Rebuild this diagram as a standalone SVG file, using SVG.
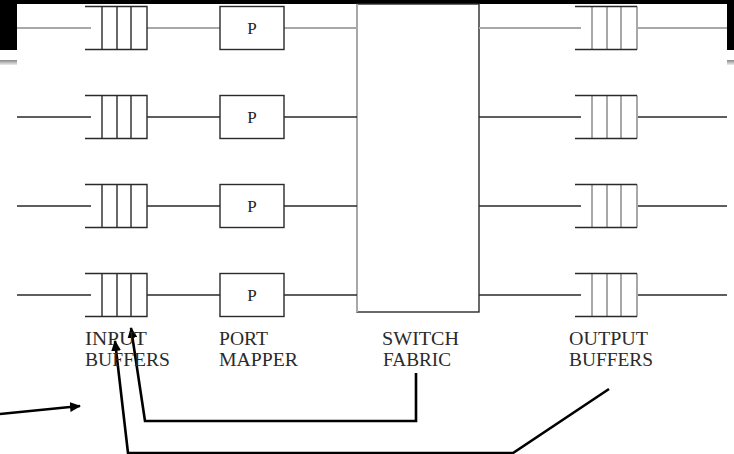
<svg xmlns="http://www.w3.org/2000/svg" width="734" height="454" viewBox="0 0 734 454">
<defs>
<style>
.d{stroke:#2a2a2a;stroke-width:1.4;fill:none}
.g{stroke:#a8a8a8;stroke-width:2;fill:none}
.a{stroke:#000;stroke-width:2.6;fill:none}
.t{font-family:"Liberation Serif","Times New Roman",serif;font-size:18.5px;fill:#2a2a2a}
.p{font-family:"Liberation Serif","Times New Roman",serif;font-size:17px;fill:#222;text-anchor:middle}
</style>
<linearGradient id="gr" x1="0" y1="0" x2="0" y2="1">
<stop offset="0" stop-color="#888"/><stop offset="1" stop-color="#eee"/>
</linearGradient>
<marker id="ah" markerWidth="12" markerHeight="10" refX="10" refY="5" orient="auto" markerUnits="userSpaceOnUse">
<path d="M0,0 L11,5 L0,10 Z" fill="#000"/>
</marker>
<g id="ibuf">
<path class="d" d="M-6,-21.5 H56 V21.5 H-6 M11,-21.5 V21.5 M26,-21.5 V21.5 M40,-21.5 V21.5"/>
</g>
<g id="obuf">
<path class="g" d="M17,-21.5 V21.5 M32,-21.5 V21.5 M46,-21.5 V21.5 M62,-21.5 V21.5"/>
<path class="d" d="M0,-21.5 H62 M0,21.5 H62"/>
</g>
</defs>
<rect width="734" height="454" fill="#fff"/>
<g id="template">
<rect x="0" y="0" width="734" height="4" fill="#000"/>
<rect x="0" y="0" width="17" height="50" fill="#000"/>
<rect x="727" y="0" width="7" height="50" fill="#000"/>
<rect x="0" y="60" width="17" height="5" fill="url(#gr)"/>
<rect x="727" y="60" width="7" height="5" fill="url(#gr)"/>
</g>
<g id="fabric">
<rect x="357" y="4" width="122" height="308" fill="#fff" stroke="#2a2a2a" stroke-width="1.4"/>
<line class="g" x1="357" y1="4" x2="357" y2="312"/>
</g>
<g id="connectors">
<path class="g" d="M17,28 H91 M147,28 H220 M284,28 H357 M479,28 H581 M638,28 H727"/>
<path class="d" d="M17,117 H91 M147,117 H220 M284,117 H357 M479,117 H581 M638,117 H727"/>
<path class="d" d="M17,206 H91 M147,206 H220 M284,206 H357 M479,206 H581 M638,206 H727"/>
<path class="d" d="M17,295 H91 M147,295 H220 M284,295 H357 M479,295 H581 M638,295 H727"/>
<path class="a" d="M0,414 L80,406" marker-end="url(#ah)"/>
<path class="a" d="M416,373 V421 H145 L131,328" marker-end="url(#ah)"/>
<path class="a" d="M609,389 L513,453 H128 L115,341" marker-end="url(#ah)"/>
</g>
<g id="in1"><use href="#ibuf" x="91" y="28"/></g>
<g id="in2"><use href="#ibuf" x="91" y="117"/></g>
<g id="in3"><use href="#ibuf" x="91" y="206"/></g>
<g id="in4"><use href="#ibuf" x="91" y="295"/></g>
<g id="p1"><rect class="d" x="220" y="6.5" width="64" height="43" fill="#fff"/><text class="p" x="252" y="34">P</text></g>
<g id="p2"><rect class="d" x="220" y="95.5" width="64" height="43" fill="#fff"/><text class="p" x="252" y="123">P</text></g>
<g id="p3"><rect class="d" x="220" y="184.5" width="64" height="43" fill="#fff"/><text class="p" x="252" y="212">P</text></g>
<g id="p4"><rect class="d" x="220" y="273.5" width="64" height="43" fill="#fff"/><text class="p" x="252" y="301">P</text></g>
<g id="out1"><use href="#obuf" x="575" y="28"/></g>
<g id="out2"><use href="#obuf" x="575" y="117"/></g>
<g id="out3"><use href="#obuf" x="575" y="206"/></g>
<g id="out4"><use href="#obuf" x="575" y="295"/></g>
<g id="labels">
<text class="t" x="85" y="345" textLength="62" lengthAdjust="spacingAndGlyphs">INPUT</text>
<text class="t" x="85" y="366" textLength="85" lengthAdjust="spacingAndGlyphs">BUFFERS</text>
<text class="t" x="219" y="345" textLength="49" lengthAdjust="spacingAndGlyphs">PORT</text>
<text class="t" x="219" y="366" textLength="79" lengthAdjust="spacingAndGlyphs">MAPPER</text>
<text class="t" x="382" y="345" textLength="77" lengthAdjust="spacingAndGlyphs">SWITCH</text>
<text class="t" x="383" y="366" textLength="68" lengthAdjust="spacingAndGlyphs">FABRIC</text>
<text class="t" x="569" y="345" textLength="79" lengthAdjust="spacingAndGlyphs">OUTPUT</text>
<text class="t" x="569" y="366" textLength="84" lengthAdjust="spacingAndGlyphs">BUFFERS</text>
</g>
</svg>
